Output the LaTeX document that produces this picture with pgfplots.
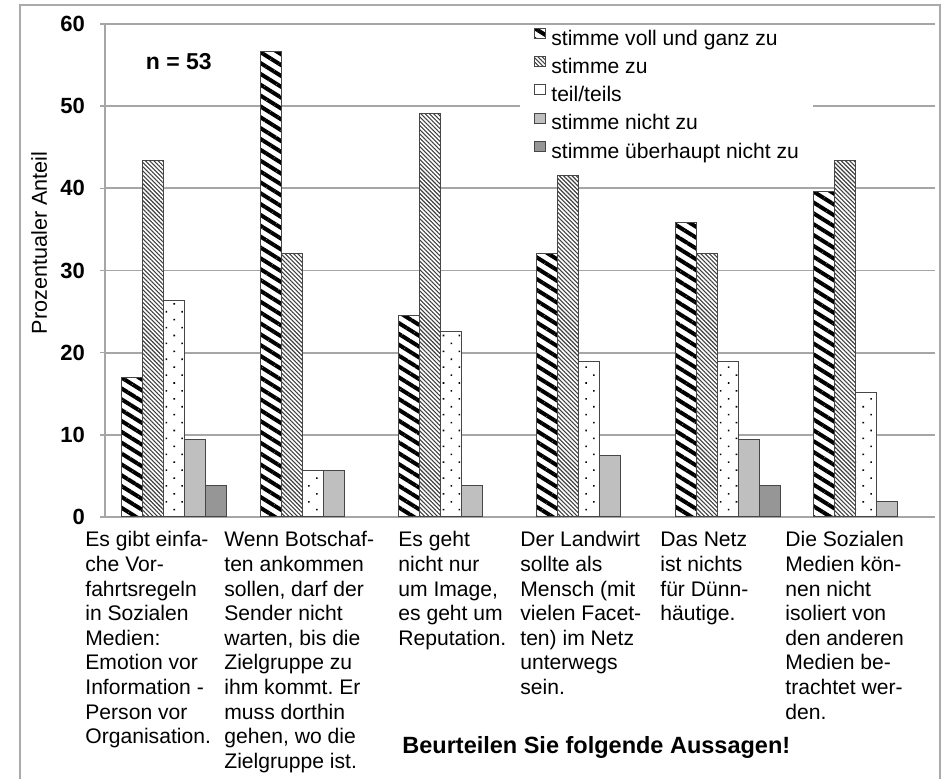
\documentclass[border=0pt]{standalone}
\usepackage{fontspec}
\setmainfont{Liberation Sans}
\usepackage{pgfplots}
\pgfplotsset{compat=1.18}
\usetikzlibrary{patterns.meta}
\frenchspacing
\definecolor{gridgray}{RGB}{166,166,166}
\definecolor{framegray}{RGB}{170,170,170}
\definecolor{lightbar}{RGB}{191,191,191}
\definecolor{darkbar}{RGB}{150,150,150}
\definecolor{edge}{RGB}{70,70,70}
\newcommand\lab{\fontsize{10.55}{12.3}\selectfont}
\pgfplotsset{sq/.style={legend image code/.code={\draw[##1] (0pt,1pt) rectangle (5.5pt,6pt); \path (0pt,0pt) (8pt,0pt);}}}
\begin{document}
\begin{tikzpicture}
\draw[framegray, line width=0.8pt] (-42.5pt,256pt) rectangle (417.5pt,-140pt);
\begin{axis}[
  at={(0pt,0pt)}, anchor=south west, scale only axis,
  width=415pt, height=246.5pt,
  xmin=-0.5, xmax=5.5, ymin=0, ymax=60,
  ybar=0pt, bar width=10.5pt,
  axis x line*=bottom, axis y line*=left,
  axis line style={draw=gridgray, line width=0.8pt},
  xtick=\empty,
  ytick={0,10,...,60},
  ymajorgrids, grid style={gridgray, line width=0.9pt},
  tick align=outside, major tick length=2.5pt,
  tick style={gridgray, line width=0.8pt},
  /pgf/number format/assume math mode=true,
  yticklabel style={font=\bfseries\fontsize{11}{12}\selectfont, text=black, xshift=-4pt},
  legend style={at={(0.5,0.99594)}, anchor=north west, draw=none, fill=white,
    inner xsep=7pt, inner ysep=0pt, font=\lab, row sep=0pt, column sep=0pt,
    nodes={inner xsep=0pt, inner ysep=2pt, text height=7.5pt, text depth=2.6pt}},
  legend cell align=left,
]
\addplot[draw=edge, line width=0.5pt, fill=white, postaction={pattern={Lines[angle=-32,distance=4.6pt,line width=2pt]}, pattern color=black}, sq]
  coordinates {(0,17.0) (1,56.6) (2,24.5) (3,32.1) (4,35.8) (5,39.6)};
\addplot[draw=edge, line width=0.5pt, fill=white, postaction={pattern={Lines[angle=-45,distance=1.5pt,line width=0.55pt]}, pattern color=black!75}, sq]
  coordinates {(0,43.4) (1,32.1) (2,49.1) (3,41.5) (4,32.1) (5,43.4)};
\addplot[draw=edge, line width=0.5pt, fill=white, postaction={pattern={Dots[radius=0.55pt,distance=5.6pt,angle=45]}, pattern color=black}, sq]
  coordinates {(0,26.4) (1,5.7) (2,22.6) (3,18.9) (4,18.9) (5,15.1)};
\addplot[draw=edge, line width=0.5pt, fill=lightbar, sq]
  coordinates {(0,9.4) (1,5.7) (2,3.8) (3,7.5) (4,9.4) (5,1.9)};
\addplot[draw=edge, line width=0.5pt, fill=darkbar, sq]
  coordinates {(0,3.8) (4,3.8)};
\legend{stimme voll und ganz zu, stimme zu, teil/teils, stimme nicht zu, stimme überhaupt nicht zu}
\end{axis}
\node[rotate=90, anchor=base, font=\fontsize{10.8}{12}\selectfont] at (-29pt,137pt) {Prozentualer Anteil};
\node[anchor=base west, font=\bfseries\fontsize{11.5}{13}\selectfont, inner sep=0pt] at (20.25pt,223.5pt) {n = 53};
\node[anchor=base west, align=left, font=\lab, inner sep=0pt] at (-10pt,-113.4pt)
  {Es gibt einfa-\\che Vor-\\fahrtsregeln\\in Sozialen\\Medien:\\Emotion vor\\Information -\\Person vor\\Organisation.};
\node[anchor=base west, align=left, font=\lab, inner sep=0pt] at (59.5pt,-125.7pt)
  {Wenn Botschaf-\\ten ankommen\\sollen, darf der\\Sender nicht\\warten, bis die\\Zielgruppe zu\\ihm kommt. Er\\muss dorthin\\gehen, wo die\\Zielgruppe ist.};
\node[anchor=base west, align=left, font=\lab, inner sep=0pt] at (146.5pt,-64.2pt)
  {Es geht\\nicht nur\\um Image,\\es geht um\\Reputation.};
\node[anchor=base west, align=left, font=\lab, inner sep=0pt] at (207.5pt,-88.8pt)
  {Der Landwirt\\sollte als\\Mensch (mit\\vielen Facet-\\ten) im Netz\\unterwegs\\sein.};
\node[anchor=base west, align=left, font=\lab, inner sep=0pt] at (277.5pt,-51.9pt)
  {Das Netz\\ist nichts\\für Dünn-\\häutige.};
\node[anchor=base west, align=left, font=\lab, inner sep=0pt] at (340pt,-101.1pt)
  {Die Sozialen\\Medien kön-\\nen nicht\\isoliert von\\den anderen\\Medien be-\\trachtet wer-\\den.};
\node[anchor=base west, font=\bfseries\fontsize{11.75}{13}\selectfont, inner sep=0pt] at (148.5pt,-118.5pt) {Beurteilen Sie folgende Aussagen!};
\pgfresetboundingbox
\path[use as bounding box] (-52.5pt,-131pt) rectangle (419.5pt,258.5pt);
\end{tikzpicture}
\end{document}
